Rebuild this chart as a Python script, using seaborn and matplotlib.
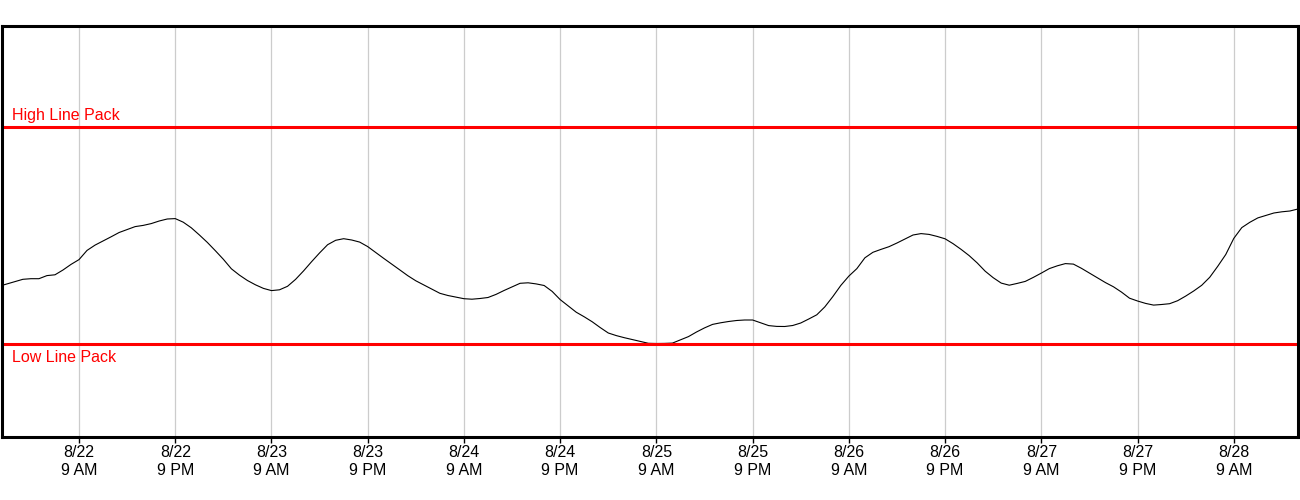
import pandas as pd
import numpy as np
import matplotlib.pyplot as plt
import matplotlib.dates as mdates
from matplotlib.ticker import FuncFormatter
import seaborn as sns

sns.set_style("white")
plt.rcParams['font.family'] = ['Liberation Sans', 'DejaVu Sans']

# --- DATA ---
# hourly line pack, starting 8/21 11 PM
start = "2023-08-21 23:00"
line_pack = [
    150.7, 153.0, 155.3, 157.7, 158.3, 158.3, 161.4, 162.2, 167.0, 172.6,
    177.4, 186.6, 191.9, 196.0, 200.2, 204.5, 207.5, 210.4, 211.6, 213.4,
    216.0, 218.0, 218.4, 214.8, 209.2, 202.1, 194.6, 186.3, 177.7, 168.2,
    161.9, 156.5, 152.2, 148.6, 146.4, 147.2, 150.7, 157.6, 166.1, 175.3,
    184.1, 192.3, 196.7, 198.3, 197.0, 194.9, 190.4, 184.5, 178.6, 172.9,
    167.1, 161.3, 156.2, 152.0, 147.8, 143.7, 141.5, 139.9, 138.3, 137.8,
    138.5, 139.5, 142.6, 146.5, 150.1, 153.7, 154.2, 153.1, 151.5, 145.6,
    137.4, 131.1, 124.8, 120.2, 115.2, 109.4, 104.0, 101.4, 99.3, 97.4,
    95.4, 93.7, 93.5, 93.6, 93.9, 97.2, 100.4, 105.0, 109.1, 112.6,
    114.2, 115.5, 116.5, 117.0, 117.0, 114.2, 111.4, 110.6, 110.5, 111.5,
    114.0, 118.0, 122.2, 130.1, 140.4, 151.6, 160.9, 168.4, 179.2, 184.7,
    187.6, 190.3, 194.0, 198.0, 202.0, 203.4, 202.6, 200.6, 198.2, 193.3,
    187.6, 181.4, 174.1, 165.8, 159.3, 153.9, 151.8, 153.6, 155.6, 159.6,
    163.9, 168.4, 171.2, 173.4, 172.9, 168.7, 163.9, 159.2, 154.4, 150.2,
    144.9, 138.8, 136.0, 133.6, 131.9, 132.5, 133.3, 136.3, 140.9, 146.0,
    151.7, 159.7, 170.7, 182.5, 198.6, 209.4, 214.7, 219.1, 221.5, 224.0,
    225.2, 226.0, 228.0,
]
high_line_pack = 310
low_line_pack = 93
high_label = "High Line Pack"
low_label = "Low Line Pack"

times = pd.date_range(start, periods=len(line_pack), freq="h")
df = pd.DataFrame({"Time": times, "Line Pack": line_pack})

# --- PLOT ---
fig = plt.figure(figsize=(13, 5), dpi=100)
ax = fig.add_axes([0.0012, 0.126, 0.9969, 0.823])

sns.lineplot(data=df, x="Time", y="Line Pack", color="black", linewidth=0.8, ax=ax)

ax.axhline(high_line_pack, color="red", lw=2.2)
ax.axhline(low_line_pack, color="red", lw=2.2)
ax.text(0.008, high_line_pack + 7, high_label, color="red", fontsize=11.5,
        va="baseline", transform=ax.get_yaxis_transform())
ax.text(0.008, low_line_pack - 6, low_label, color="red", fontsize=11.5,
        va="top", transform=ax.get_yaxis_transform())

base = pd.Timestamp("2023-08-22 00:00")
ax.set_xlim(base + pd.Timedelta(hours=-0.66), base + pd.Timedelta(hours=160.95))
ax.set_ylim(0, 411.5)


def fmt(x, pos):
    d = mdates.num2date(x)
    hr = d.hour % 12 or 12
    ampm = "AM" if d.hour < 12 else "PM"
    return f"{d.month}/{d.day}\n{hr} {ampm}"


ax.xaxis.set_major_locator(mdates.HourLocator(byhour=[9, 21]))
ax.xaxis.set_major_formatter(FuncFormatter(fmt))
ax.set_yticks([])
ax.set_xlabel("")
ax.set_ylabel("")
ax.tick_params(axis="x", bottom=True, length=4, width=1, color="black",
               labelsize=11.5, pad=2, labelcolor="black")
for t in ax.xaxis.get_major_ticks():
    t.label1.set_linespacing(1.25)

ax.grid(axis="x", color="#cccccc", lw=0.9)
ax.grid(axis="y", visible=False)
for s in ax.spines.values():
    s.set_visible(True)
    s.set_color("black")
    s.set_linewidth(2.2)

fig.savefig("out.png", dpi=100)
